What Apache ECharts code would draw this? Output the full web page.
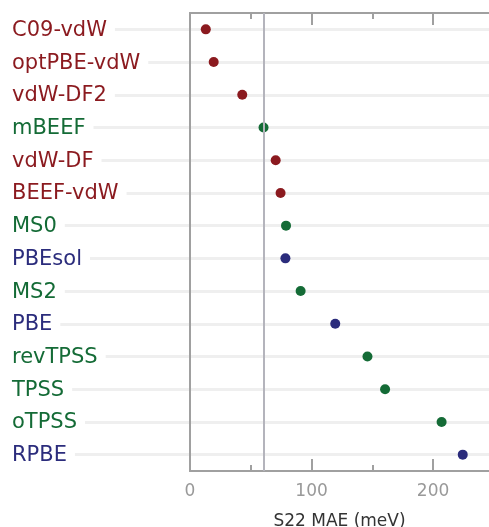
<!DOCTYPE html>
<html>
<head>
<meta charset="utf-8">
<script src="https://cdn.jsdelivr.net/npm/echarts@6/dist/echarts.min.js"></script>
<style>
html,body{margin:0;padding:0;background:#fff;}
#chart{width:489px;height:527px;}
</style>
</head>
<body>
<div id="chart"></div>
<script>
// methods, top to bottom
const methods = ['C09-vdW','optPBE-vdW','vdW-DF2','mBEEF','vdW-DF','BEEF-vdW','MS0','PBEsol','MS2','PBE','revTPSS','TPSS','oTPSS','RPBE'];
const groups = ['vdw','vdw','vdw','meta','vdw','vdw','meta','gga','meta','gga','meta','meta','meta','gga'];
const maeValues = [13,19.5,43,60.5,70.5,74.5,79,78.5,91,119.5,146,160.5,207,224.4];
const refLine = 60.5;
const majorTicks = [0,100,200];
const minorTicks = [50,150];
const xMax = 246;

const color = {
  vdw: '#8b1a1f',
  meta: '#146b36',
  gga: '#2b2c7c'
};

const rich = {};
for (let g in color) {
  rich[g] = {color: color[g], fontSize: 21, fontFamily: 'DejaVu Sans', backgroundColor: '#fff', padding: [3, 8, 1, 0]};
}

const axisGray = '#a0a0a0';
// one x axis in the data grid; pos = 'top' / 'bottom', ticks = which values get a tick
function xAx(pos, ticks, len, showLabel, extra) {
  return Object.assign({
    gridIndex: 1, type: 'value', min: 0, max: xMax, position: pos,
    axisLine: {show: true, lineStyle: {color: axisGray, width: 2}},
    axisTick: {show: true, inside: true, length: len, customValues: ticks, lineStyle: {color: axisGray, width: 2}},
    axisLabel: {show: showLabel, customValues: majorTicks, color: '#999', fontSize: 17, fontFamily: 'DejaVu Sans', margin: 12},
    splitLine: {show: false}
  }, extra || {});
}

const chart = echarts.init(document.getElementById('chart'));
chart.setOption({
  animation: false,
  grid: [
    {left: 12, right: 0, top: 29.35, bottom: 72.35, outerBoundsMode: 'none'},
    {left: 190, right: 0, top: 13, bottom: 56, outerBoundsMode: 'none'}
  ],
  xAxis: [
    {gridIndex: 0, type: 'value', show: false, min: 0, max: xMax},
    xAx('bottom', majorTicks, 12, true, {
      name: 'S22 MAE (meV)', nameLocation: 'middle', nameGap: 42,
      nameTextStyle: {color: '#333', fontSize: 17, fontFamily: 'DejaVu Sans'}
    }),
    xAx('bottom', minorTicks, 6, false),
    xAx('top', majorTicks, 12, false),
    xAx('top', minorTicks, 6, false)
  ],
  yAxis: [
    {
      gridIndex: 0, type: 'category', data: methods, inverse: true, boundaryGap: false, z: 0,
      axisLine: {show: false}, axisTick: {show: false}, axisLabel: {show: false},
      splitLine: {show: true, lineStyle: {color: '#efefef', width: 3}}
    },
    {
      gridIndex: 1, type: 'category', data: methods, inverse: true, z: 5,
      axisLine: {show: true, lineStyle: {color: axisGray, width: 2}},
      axisTick: {show: false},
      axisLabel: {
        align: 'left', margin: 178,
        formatter: (v, i) => '{' + groups[i] + '|' + v + '}',
        rich: rich
      },
      splitLine: {show: false}
    }
  ],
  series: [{
    type: 'scatter',
    xAxisIndex: 1,
    yAxisIndex: 1,
    symbolSize: 10,
    data: maeValues.map((v, i) => ({value: [v, methods[i]], itemStyle: {color: color[groups[i]], opacity: 1}})),
    markLine: {
      silent: true,
      symbol: 'none',
      label: {show: false},
      lineStyle: {color: '#b4b4bc', width: 2, type: 'solid'},
      data: [{xAxis: refLine}]
    }
  }]
});
</script>
</body>
</html>
